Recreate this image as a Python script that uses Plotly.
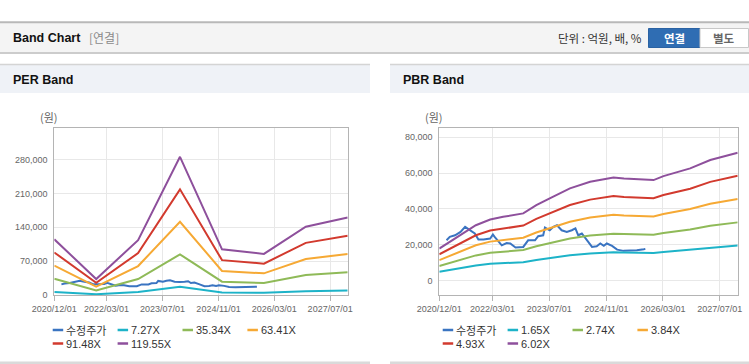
import plotly.graph_objects as go

# ---------------- data ----------------
stock_dates = ["2021-02-01", "2021-03-01", "2021-04-15", "2021-06-01", "2021-07-10", "2021-08-20",
               "2021-10-01", "2021-11-01", "2021-12-15", "2022-02-10", "2022-03-05", "2022-03-20",
               "2022-05-20", "2022-07-01", "2022-08-01", "2022-09-15", "2022-10-25", "2022-11-20",
               "2023-01-01", "2023-03-01", "2023-03-28", "2023-05-10", "2023-05-25", "2023-07-05",
               "2023-08-05", "2023-09-05", "2023-10-15", "2023-11-28", "2024-01-10", "2024-02-10",
               "2024-03-05", "2024-04-05", "2024-05-20", "2024-07-01", "2024-08-10", "2024-09-10",
               "2024-10-10", "2024-11-05", "2024-12-20", "2025-02-01", "2025-03-28", "2025-05-25",
               "2025-07-20", "2025-09-18", "2025-10-01"]
stock_price = [22500, 24400, 25300, 27200, 30000, 28100,
               26300, 22900, 22900, 23500, 25700, 24400,
               19700, 21000, 20700, 18500, 18500, 18800,
               22500, 22500, 24800, 25300, 29600, 28100,
               30000, 30900, 28100, 27200, 28100, 29100,
               25300, 26300, 22500, 18800, 19200, 20700,
               19400, 20700, 19400, 17300, 16600, 16600,
               16900, 17500, 17700]

# PER band: per-share earnings read at each year end, multiples from legend
eps_dates = ["2020-12-01", "2021-12-01", "2022-12-01", "2023-12-01",
             "2024-12-01", "2025-12-01", "2026-12-01", "2027-12-01"]
eps_values = [965, 280, 950, 2386, 792, 713, 1181, 1342]
per_multiples = [7.27, 35.34, 63.41, 91.48, 119.55]
per_labels = ["7.27X", "35.34X", "63.41X", "91.48X", "119.55X"]

# PBR band: per-share book value read along the top band, multiples from legend
bps_dates = ["2020-12-01", "2021-06-15", "2021-10-10", "2022-02-10", "2022-06-01", "2022-11-20",
             "2023-03-12", "2023-07-05", "2023-12-25", "2024-06-15", "2024-11-05", "2025-01-01",
             "2025-04-01", "2025-11-10", "2025-12-10", "2026-03-05", "2026-10-20", "2027-04-10",
             "2027-12-01"]
bps_values = [2973, 4369, 5133, 5664, 5914, 6229,
              6993, 7625, 8555, 9169, 9419, 9568,
              9468, 9385, 9319, 9684, 10399, 11179,
              11860]
pbr_multiples = [1.65, 2.74, 3.84, 4.93, 6.02]
pbr_labels = ["1.65X", "2.74X", "3.84X", "4.93X", "6.02X"]

stock_label = "수정주가"
x_tickvals = ["2020-12-01", "2022-03-01", "2023-07-01", "2024-11-01", "2026-03-01", "2027-07-01"]
x_ticktext = ["2020/12/01", "2022/03/01", "2023/07/01", "2024/11/01", "2026/03/01", "2027/07/01"]
per_yticks = [0, 70000, 140000, 210000, 280000]
pbr_yticks = [0, 20000, 40000, 60000, 80000]

# ---------------- styles ----------------
W, H = 749, 364
stock_color = "#3a74c1"
band_colors = ["#1db3c8", "#8fba58", "#f6a934", "#d23a2e", "#8e509c"]
LAT = "Liberation Sans, Arial, Noto Sans CJK KR"
KR = "Noto Sans CJK KR, Liberation Sans"


def px(x):
    return x / W


def py(y):
    return 1 - y / H


fig = go.Figure()

# PER traces
fig.add_trace(go.Scatter(x=stock_dates, y=stock_price, mode="lines", name=stock_label,
                         line=dict(color=stock_color, width=2), xaxis="x", yaxis="y", showlegend=False))
for m, lab, c in zip(per_multiples, per_labels, band_colors):
    fig.add_trace(go.Scatter(x=eps_dates, y=[e * m for e in eps_values], mode="lines", name=lab,
                             line=dict(color=c, width=2), xaxis="x", yaxis="y", showlegend=False))

# PBR traces
fig.add_trace(go.Scatter(x=stock_dates, y=stock_price, mode="lines", name=stock_label,
                         line=dict(color=stock_color, width=2), xaxis="x2", yaxis="y2", showlegend=False))
for m, lab, c in zip(pbr_multiples, pbr_labels, band_colors):
    fig.add_trace(go.Scatter(x=bps_dates, y=[b * m for b in bps_values], mode="lines", name=lab,
                             line=dict(color=c, width=2), xaxis="x2", yaxis="y2", showlegend=False))

axis_common = dict(showline=True, mirror=True, linecolor="#b4b4b4", linewidth=1, automargin=False,
                   showgrid=True, gridcolor="#e8e8e8", gridwidth=1, zeroline=False,
                   tickfont=dict(family=LAT, size=9, color="#666666"))

xcommon = dict(axis_common, type="date", range=["2020-12-01", "2027-12-01"],
               tickmode="array", tickvals=x_tickvals, ticktext=x_ticktext,
               ticks="outside", ticklen=5, tickcolor="#b4b4b4")

ytop, ybot = 128.3, 295.3
fig.update_layout(
    template="none",
    width=W, height=H, autosize=False,
    margin=dict(l=0, r=0, t=0, b=0, pad=0),
    paper_bgcolor="white", plot_bgcolor="white",
    showlegend=False,
    xaxis=dict(xcommon, domain=[px(54.3), px(347.7)], anchor="y"),
    yaxis=dict(axis_common, domain=[py(ybot), py(ytop)], anchor="x",
               range=[0, 344000], tickmode="array", tickvals=per_yticks,
               tickformat=",", ticks="outside", ticklen=4, tickcolor="rgba(0,0,0,0)"),
    xaxis2=dict(xcommon, domain=[px(439.3), px(737.7)], anchor="y2"),
    yaxis2=dict(axis_common, domain=[py(ybot), py(ytop)], anchor="x2",
                range=[-8200, 85000], tickmode="array", tickvals=pbr_yticks,
                tickformat=",", ticks="outside", ticklen=4, tickcolor="rgba(0,0,0,0)"),
    hovermode=False,
)

shapes = []
# top header bar
shapes.append(dict(type="rect", xref="paper", yref="paper", x0=0, x1=1, y0=py(53), y1=py(22.5),
                   fillcolor="#f4f4f4", line=dict(width=0), layer="below"))
shapes.append(dict(type="line", xref="paper", yref="paper", x0=0, x1=1, y0=py(22.3), y1=py(22.3),
                   line=dict(color="#b8b8b8", width=2)))
shapes.append(dict(type="line", xref="paper", yref="paper", x0=0, x1=1, y0=py(53), y1=py(53),
                   line=dict(color="#cccccc", width=2)))
# buttons
shapes.append(dict(type="rect", xref="paper", yref="paper", x0=px(648.5), x1=px(700), y0=py(47.5), y1=py(28.5),
                   fillcolor="#2f6db3", line=dict(color="#2a62a3", width=1)))
shapes.append(dict(type="rect", xref="paper", yref="paper", x0=px(700), x1=px(748.5), y0=py(47.5), y1=py(28.5),
                   fillcolor="#ffffff", line=dict(color="#c8c8c8", width=1)))
# panel headers
for x0, x1 in [(0, 370), (390, 749)]:
    shapes.append(dict(type="rect", xref="paper", yref="paper", x0=px(x0), x1=px(x1), y0=py(93), y1=py(64.5),
                       fillcolor="#eff2f7", line=dict(width=0), layer="below"))
    shapes.append(dict(type="line", xref="paper", yref="paper", x0=px(x0), x1=px(x1), y0=py(64.5), y1=py(64.5),
                       line=dict(color="#d4d4d4", width=1.5)))
    shapes.append(dict(type="line", xref="paper", yref="paper", x0=px(x0), x1=px(x1), y0=py(362.8), y1=py(362.8),
                       line=dict(color="#dadada", width=2.5)))

annotations = []


def txt(x, y, text, size, color, family, xanchor="left"):
    annotations.append(dict(xref="paper", yref="paper", x=px(x), y=py(y), text=text, showarrow=False,
                            xanchor=xanchor, yanchor="middle", font=dict(family=family, size=size, color=color)))


txt(10.5, 38, "<b>Band Chart</b>", 12.5, "#111111", LAT)
txt(86.5, 38, "[연결]", 12, "#8a8a8a", KR)
txt(644, 38, "단위 : 억원, 배, %", 11.5, "#333333", KR, xanchor="right")
txt(674, 38, "<b>연결</b>", 11.5, "#ffffff", KR, xanchor="center")
txt(724, 38, "<b>별도</b>", 11.5, "#666666", KR, xanchor="center")
txt(10.5, 79.5, "<b>PER Band</b>", 12.5, "#111111", LAT)
txt(400.5, 79.5, "<b>PBR Band</b>", 12.5, "#111111", LAT)
txt(49, 117.5, "(원)", 11, "#666666", KR, xanchor="center")
txt(434, 117.5, "(원)", 11, "#666666", KR, xanchor="center")

# custom legends
colors_all = [stock_color] + band_colors
for base_x, labels in [(52.7, [stock_label] + per_labels), (442.7, [stock_label] + pbr_labels)]:
    for i, (lab, c) in enumerate(zip(labels, colors_all)):
        col, row = i % 4, i // 4
        sx = base_x + 64.9 * col
        sy = 330 + 13.5 * row
        shapes.append(dict(type="line", xref="paper", yref="paper", x0=px(sx), x1=px(sx + 10.5),
                           y0=py(sy), y1=py(sy), line=dict(color=c, width=2.5)))
        txt(sx + 11.5, sy, lab, 11, "#333333", LAT if i else KR)

fig.update_layout(shapes=shapes, annotations=annotations)
fig.write_html("out.html", config={"displayModeBar": False},
               post_script="document.body.style.margin='0';document.body.style.overflow='hidden';")
